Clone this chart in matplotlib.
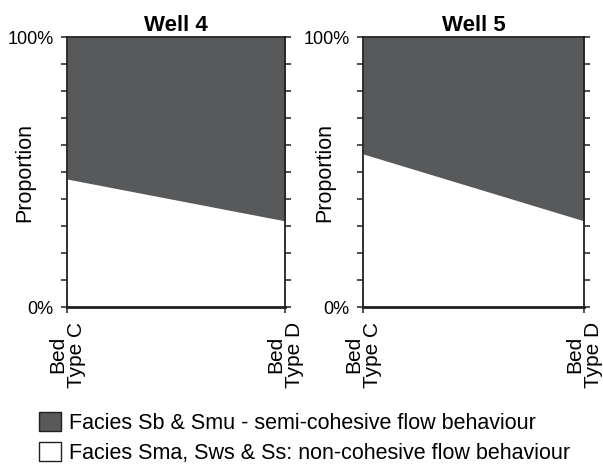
import matplotlib
matplotlib.use("Agg")
import matplotlib.pyplot as plt
from matplotlib.patches import Patch

plt.rcParams['font.family'] = ['Liberation Sans', 'DejaVu Sans']

# datos
wells = ["Well 4", "Well 5"]
bed_types = ["Bed\nType C", "Bed\nType D"]
# proporcion (%) de facies no cohesivas (parte blanca) en cada tipo de capa
non_cohesive = {
    "Well 4": [47.4, 31.9],
    "Well 5": [56.7, 31.9],
}
legend_labels = ["Facies Sb & Smu - semi-cohesive flow behaviour",
                 "Facies Sma, Sws & Ss: non-cohesive flow behaviour"]

dark = "#58595b"
ink = "#231f20"

W, H = 603, 469
fig = plt.figure(figsize=(W / 100, H / 100), dpi=100)

# posicion de los ejes en pixeles (izq, der) y x del borde derecho del ylabel
boxes = [(67, 285), (363, 584)]
ylab_x = [35, 335]
top, bottom = 37, 307

for well, (x0, x1), lx in zip(wells, boxes, ylab_x):
    ax = fig.add_axes([x0 / W, 1 - bottom / H, (x1 - x0) / W, (bottom - top) / H])
    x = [0, 1]
    low = non_cohesive[well]
    ax.fill_between(x, 0, low, color="white", lw=0)
    ax.fill_between(x, low, 100, color=dark, lw=0)
    ax.set_xlim(0, 1)
    ax.set_ylim(0, 100)
    ax.set_xticks(x)
    ax.set_xticklabels(bed_types, rotation=90, fontsize=15,
                       ha="center", va="top", multialignment="center",
                       linespacing=0.95)
    ax.set_yticks(range(0, 101, 10))
    ax.set_yticklabels(["0%"] + [""] * 9 + ["100%"], fontsize=13)
    ax.tick_params(axis="y", direction="out", length=4.5, width=1.1,
                   color=ink, right=True, pad=5)
    ax.tick_params(axis="x", direction="out", length=4.5, width=1.1,
                   color=ink, pad=6)
    for s in ax.spines.values():
        s.set_linewidth(1.3)
        s.set_color(ink)
    ax.spines["bottom"].set_linewidth(2)
    ax.set_ylabel("Proportion", fontsize=15.5)
    ax.yaxis.set_label_coords((lx - x0) / (x1 - x0), 0.5)
    ax.set_title(well, fontsize=16, fontweight="bold", pad=4)

handles = [Patch(facecolor=dark, edgecolor=ink, lw=1),
           Patch(facecolor="white", edgecolor=ink, lw=1)]
fig.legend(handles, legend_labels, loc="upper left",
           bbox_to_anchor=(39 / W, 1 - 412 / H), frameon=False,
           fontsize=15.5, handlelength=1.0, handleheight=1.0,
           handletextpad=0.4, labelspacing=0.35,
           borderpad=0, borderaxespad=0)

fig.savefig("out.png", dpi=100)
